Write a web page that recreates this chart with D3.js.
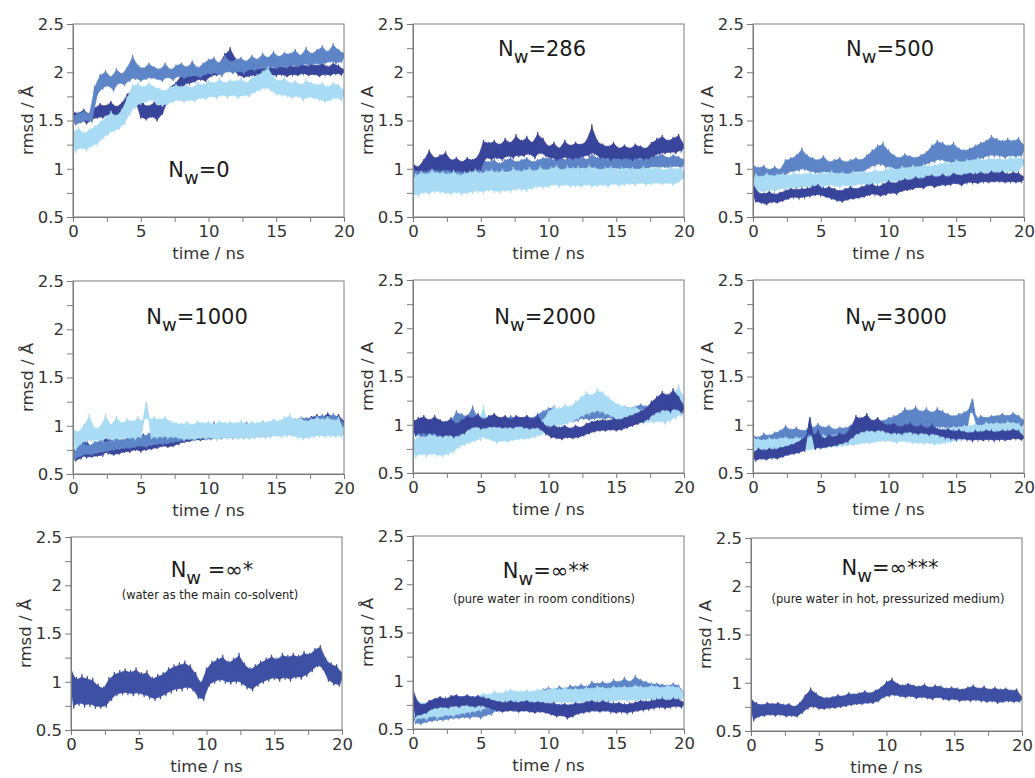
<!DOCTYPE html>
<html><head><meta charset="utf-8">
<script src="https://cdn.jsdelivr.net/npm/d3@7"></script>
<style>body{margin:0;background:#fff}svg{display:block}</style>
</head><body><svg id="c" width="1035" height="778"></svg>
<script>
// ---------- data (rmsd / Å sampled every 0.2 ns, 0..20 ns) ----------
const timeStep = 0.2;
const xTicks = [0, 2.5, 5, 7.5, 10, 12.5, 15, 17.5, 20];
const xTickLabels = [0, 5, 10, 15, 20];
const yTicks = [0.5, 0.75, 1, 1.25, 1.5, 1.75, 2, 2.25, 2.5];
const yTickLabels = [0.5, 1, 1.5, 2, 2.5];

const nw0_medium = [1.55,1.45,1.58,1.47,1.6,1.5,1.56,1.48,1.86,1.76, 1.98,1.82,2.02,1.85,1.96,1.8,2.04,1.88,1.99,1.86, 2.06,1.9,2.18,1.92,2.08,1.9,2.05,1.92,2.1,1.93, 2.06,1.92,2.04,1.9,2.1,1.94,2.03,1.91,2.08,1.95, 2.1,1.93,2.06,1.95,2.12,1.96,2.05,1.94,2.1,1.97, 2.14,1.97,2.16,1.98,2.1,1.95,2.18,2.0,2.12,1.98, 2.14,2.0,2.16,1.98,2.12,2.02,2.18,2.01,2.14,2.03, 2.2,2.02,2.16,2.04,2.22,2.03,2.17,2.05,2.21,2.04, 2.2,2.06,2.24,2.05,2.18,2.07,2.26,2.06,2.2,2.08, 2.24,2.07,2.28,2.08,2.22,2.1,2.3,2.08,2.24,2.1, 2.2];
const nw0_dark = [1.6,1.47,1.58,1.5,1.62,1.46,1.57,1.5,1.64,1.52, 1.68,1.52,1.66,1.55,1.7,1.53,1.65,1.54,1.69,1.56, 1.78,1.68,1.82,1.7,1.78,1.52,1.68,1.5,1.66,1.53, 1.7,1.49,1.66,1.56,1.78,1.7,1.86,1.74,1.9,1.78, 1.98,1.86,2.0,1.88,1.96,1.9,2.02,1.92,2.0,1.9, 2.08,1.95,2.12,1.96,2.1,1.98,2.2,2.0,2.26,2.02, 2.15,1.96,2.08,1.94,2.06,1.95,2.1,1.96,2.05,1.94, 2.06,1.95,2.08,1.97,2.04,1.96,2.09,1.97,2.05,1.95, 2.08,1.97,2.06,1.96,2.1,1.98,2.07,1.96,2.09,1.97, 2.08,1.95,2.1,1.97,2.06,1.96,2.1,1.98,2.07,1.97, 2.03];
const nw0_light = [1.4,1.16,1.44,1.2,1.38,1.18,1.42,1.22,1.45,1.24, 1.5,1.3,1.55,1.34,1.6,1.38,1.56,1.4,1.62,1.45, 1.75,1.55,1.88,1.62,1.9,1.66,1.86,1.68,1.9,1.7, 1.86,1.66,1.84,1.64,1.82,1.66,1.86,1.68,1.88,1.7, 1.86,1.68,1.88,1.7,1.85,1.69,1.9,1.72,1.88,1.71, 1.92,1.74,1.9,1.72,1.94,1.75,1.9,1.73,1.93,1.75, 1.92,1.72,1.95,1.75,1.9,1.74,1.96,1.78,1.98,1.8, 2.02,1.82,2.06,1.8,1.96,1.76,1.92,1.75,1.95,1.74, 1.9,1.72,1.92,1.74,1.88,1.7,1.93,1.73,1.9,1.72, 1.88,1.7,1.9,1.68,1.86,1.7,1.9,1.72,1.88,1.7, 1.82];

const nw286_dark = [1.05,0.98,1.02,0.97,1.1,0.96,1.2,0.98,1.12,0.97, 1.15,0.96,1.18,0.98,1.1,0.95,1.12,0.97,1.08,0.95, 1.12,0.96,1.1,0.97,1.14,0.98,1.3,1.1,1.28,1.08, 1.3,1.1,1.26,1.08,1.32,1.12,1.28,1.1,1.36,1.12, 1.3,1.12,1.34,1.14,1.28,1.1,1.38,1.15,1.32,1.12, 1.24,1.1,1.28,1.08,1.22,1.1,1.3,1.1,1.25,1.09, 1.28,1.1,1.26,1.12,1.3,1.12,1.46,1.14,1.3,1.1, 1.26,1.1,1.24,1.08,1.28,1.1,1.22,1.09,1.25,1.1, 1.22,1.08,1.26,1.1,1.24,1.09,1.22,1.1,1.28,1.12, 1.32,1.14,1.35,1.15,1.3,1.16,1.33,1.15,1.36,1.18, 1.25];
const nw286_medium = [1.0,0.88,1.02,0.9,1.05,0.88,1.0,0.9,1.04,0.89, 1.03,0.9,1.06,0.91,1.02,0.9,1.05,0.92,1.0,0.9, 1.04,0.92,1.08,0.93,1.02,0.92,1.1,0.94,1.08,0.95, 1.1,0.94,1.06,0.95,1.1,0.96,1.12,0.96,1.08,0.95, 1.1,0.96,1.12,0.97,1.08,0.95,1.1,0.98,1.12,0.97, 1.12,0.98,1.1,0.96,1.14,0.98,1.1,0.97,1.13,0.99, 1.12,0.98,1.15,1.0,1.1,0.98,1.16,1.0,1.12,0.98, 1.13,0.99,1.1,0.98,1.14,1.0,1.12,0.98,1.15,1.0, 1.12,0.98,1.14,0.99,1.1,0.98,1.13,1.0,1.15,1.01, 1.14,1.0,1.16,1.01,1.12,1.0,1.15,1.02,1.13,1.0, 1.1];
const nw286_light = [0.72,0.95,0.7,0.98,0.74,0.96,0.72,1.0,0.75,0.97, 0.74,0.98,0.73,0.96,0.72,0.99,0.74,0.95,0.72,0.97, 0.73,0.98,0.74,1.0,0.75,0.97,0.74,0.99,0.76,1.0, 0.75,0.98,0.74,1.0,0.76,0.97,0.75,1.02,0.77,0.99, 0.77,1.0,0.76,1.02,0.78,0.99,0.8,1.03,0.79,1.0, 0.8,1.02,0.82,1.04,0.8,1.0,0.82,1.03,0.8,1.02, 0.81,1.03,0.8,1.01,0.82,1.04,0.8,1.02,0.81,1.0, 0.82,1.02,0.8,1.03,0.83,1.0,0.81,1.02,0.82,1.01, 0.83,1.02,0.82,1.0,0.84,1.03,0.82,1.01,0.83,1.02, 0.84,1.02,0.83,1.0,0.84,1.03,0.82,1.01,0.85,1.02, 0.9];

const nw500_medium = [1.05,0.86,1.02,0.88,1.04,0.85,1.0,0.87,1.03,0.86, 1.0,0.88,1.1,0.95,1.12,0.96,1.15,0.97,1.22,0.98, 1.15,0.96,1.12,0.95,1.1,0.94,1.14,0.96,1.08,0.94, 1.1,0.93,1.12,0.94,1.08,0.93,1.1,0.95,1.12,0.96, 1.1,0.96,1.15,1.0,1.2,1.02,1.25,1.03,1.28,1.0, 1.2,1.0,1.15,0.98,1.12,0.99,1.16,0.98,1.14,1.0, 1.12,0.99,1.15,1.02,1.18,1.05,1.25,1.06,1.3,1.08, 1.28,1.06,1.25,1.05,1.28,1.04,1.22,1.05,1.2,1.04, 1.22,1.05,1.25,1.08,1.28,1.1,1.3,1.12,1.35,1.12, 1.32,1.12,1.3,1.1,1.32,1.12,1.3,1.11,1.33,1.12, 1.25];
const nw500_dark = [0.85,0.65,0.76,0.64,0.75,0.62,0.77,0.65,0.74,0.64, 0.76,0.66,0.78,0.68,0.8,0.7,0.79,0.69,0.8,0.7, 0.8,0.71,0.82,0.72,0.84,0.72,0.8,0.7,0.82,0.68, 0.8,0.66,0.78,0.65,0.8,0.67,0.82,0.68,0.8,0.69, 0.82,0.7,0.84,0.72,0.85,0.73,0.82,0.71,0.85,0.72, 0.88,0.74,0.86,0.73,0.88,0.76,0.9,0.77,0.89,0.78, 0.92,0.8,0.9,0.79,0.93,0.82,0.94,0.8,0.92,0.82, 0.95,0.82,0.92,0.83,0.96,0.84,0.94,0.82,0.95,0.85, 0.96,0.85,0.95,0.84,0.97,0.86,0.95,0.85,0.98,0.86, 0.96,0.86,0.98,0.85,0.95,0.86,0.97,0.85,0.96,0.86, 0.92];
const nw500_light = [0.75,0.95,0.76,0.93,0.74,0.96,0.77,0.94,0.75,0.95, 0.78,0.96,0.77,0.94,0.79,0.97,0.78,0.95,0.8,0.96, 0.8,0.97,0.79,0.95,0.81,0.97,0.8,0.96,0.82,0.98, 0.81,0.96,0.8,0.97,0.82,0.95,0.8,0.98,0.82,0.97, 0.83,0.98,0.82,0.97,0.84,1.0,0.83,0.98,0.85,1.0, 0.85,1.02,0.86,1.0,0.85,1.03,0.86,1.02,0.87,1.04, 0.86,1.03,0.88,1.05,0.87,1.04,0.88,1.05,0.9,1.06, 0.9,1.08,0.92,1.06,0.91,1.1,0.93,1.08,0.92,1.1, 0.93,1.1,0.94,1.12,0.93,1.1,0.95,1.12,0.94,1.11, 0.95,1.12,0.94,1.1,0.96,1.13,0.95,1.12,0.96,1.12, 1.05];

const nw1000_medium = [0.75,0.65,0.8,0.68,0.82,0.7,0.8,0.69,0.84,0.71, 0.85,0.72,0.84,0.73,0.86,0.74,0.88,0.75,0.86,0.76, 0.88,0.76,0.9,0.77,0.92,0.78,0.9,0.77,0.93,0.79, 0.92,0.8,0.94,0.8,0.92,0.81,0.95,0.82,0.94,0.83, 0.96,0.84,0.98,0.85,0.96,0.86,0.99,0.86,0.98,0.87, 1.0,0.87,0.98,0.88,1.02,0.88,1.0,0.89,1.02,0.9, 1.0,0.89,1.03,0.9,1.01,0.9,1.04,0.91,1.02,0.9, 1.04,0.91,1.03,0.92,1.06,0.93,1.04,0.92,1.05,0.93, 1.06,0.94,1.08,0.95,1.06,0.94,1.09,0.96,1.08,0.95, 1.1,0.96,1.12,0.97,1.1,0.96,1.13,0.97,1.1,0.96, 1.02];
const nw1000_dark = [0.72,0.63,0.78,0.65,0.95,0.66,0.8,0.67,0.78,0.68, 0.8,0.68,1.02,0.7,0.82,0.69,0.84,0.7,0.83,0.72, 0.86,0.72,0.88,0.74,0.9,0.72,0.92,0.74,0.88,0.75, 0.9,0.76,0.88,0.78,0.92,0.77,0.9,0.78,0.93,0.8, 0.98,0.82,0.95,0.83,0.97,0.84,1.0,0.84,0.96,0.85, 1.0,0.85,1.04,0.86,0.98,0.86,1.02,0.88,1.0,0.86, 1.02,0.87,1.0,0.86,1.04,0.88,1.01,0.87,1.03,0.88, 1.05,0.88,1.02,0.89,1.06,0.9,1.04,0.89,1.06,0.9, 1.08,0.92,1.06,0.93,1.1,0.92,1.08,0.94,1.1,0.95, 1.12,0.95,1.1,0.94,1.14,0.96,1.1,0.95,1.12,0.96, 1.05];
const nw1000_light = [0.98,0.74,0.95,0.8,1.02,0.82,1.12,0.83,0.98,0.84, 1.0,0.83,1.12,0.85,1.02,0.84,1.1,0.85,1.04,0.86, 1.08,0.86,1.06,0.85,1.1,0.87,1.05,1.25,1.08,0.86, 1.1,0.86,1.08,0.87,1.1,0.86,1.06,0.87,1.04,0.86, 1.03,0.84,1.05,0.85,1.02,0.84,1.06,0.86,1.04,0.85, 1.05,0.86,1.03,0.84,1.06,0.86,1.04,0.85,1.05,0.86, 1.04,0.85,1.06,0.86,1.03,0.85,1.05,0.86,1.04,0.87, 1.06,0.86,1.05,0.87,1.08,0.88,1.06,0.87,1.1,0.88, 1.12,0.88,1.08,0.86,1.1,0.85,1.06,0.86,1.08,0.87, 1.1,0.88,1.08,0.87,1.1,0.88,1.07,0.87,1.09,0.88, 0.95];

const nw2000_medium = [1.0,0.88,1.02,0.87,0.98,0.86,1.0,0.88,0.98,0.87, 1.0,0.86,1.02,0.88,1.05,0.9,1.15,0.92,1.12,0.93, 1.1,0.92,1.2,0.94,1.08,0.93,1.1,0.94,1.05,0.92, 1.1,0.94,1.08,0.93,1.06,0.94,1.1,0.95,1.08,0.96, 1.05,0.94,1.1,0.96,1.08,0.95,1.12,0.98,1.15,1.0, 1.18,1.0,1.2,1.02,1.16,1.0,1.2,1.03,1.18,1.02, 1.2,1.03,1.28,1.05,1.22,1.04,1.2,1.05,1.22,1.06, 1.2,1.05,1.22,1.06,1.2,1.04,1.18,1.05,1.2,1.06, 1.18,1.05,1.2,1.06,1.22,1.05,1.2,1.06,1.22,1.07, 1.2,1.06,1.22,1.08,1.2,1.07,1.24,1.08,1.22,1.1, 1.15];
const nw2000_dark = [1.05,0.88,1.08,0.9,1.1,0.89,1.06,0.9,1.1,0.88, 1.06,0.87,1.04,0.88,1.08,0.86,1.02,0.88,1.06,0.9, 1.1,0.95,1.08,0.97,1.12,0.95,1.06,0.96,1.1,0.97, 1.12,0.97,1.08,0.96,1.1,0.97,1.06,0.96,1.1,0.98, 1.08,0.96,1.1,0.95,1.06,0.96,1.1,0.95,1.02,0.9, 0.98,0.86,1.0,0.85,0.98,0.84,1.0,0.86,0.97,0.85, 1.0,0.86,0.98,0.88,1.02,0.9,1.04,0.92,1.05,0.93, 1.06,0.93,1.05,0.94,1.07,0.93,1.06,0.94,1.08,0.96, 1.1,0.98,1.12,1.0,1.15,1.02,1.18,1.05,1.25,1.1, 1.3,1.12,1.35,1.14,1.32,1.12,1.38,1.15,1.3,1.12, 1.2];
const nw2000_light = [0.85,0.65,0.9,0.68,0.88,0.66,0.92,0.68,0.9,0.67, 0.88,0.66,0.9,0.68,0.92,0.7,0.98,0.75,1.0,0.78, 1.0,0.8,1.02,0.82,1.05,0.83,1.2,0.84,1.02,0.83, 0.98,0.8,1.0,0.82,0.97,0.81,1.0,0.83,0.98,0.84, 1.0,0.84,0.98,0.85,1.02,0.86,1.04,0.88,1.06,0.9, 1.15,0.95,1.2,0.97,1.18,0.98,1.22,1.0,1.2,1.02, 1.25,1.05,1.3,1.08,1.35,1.1,1.32,1.12,1.38,1.12, 1.35,1.1,1.3,1.08,1.25,1.05,1.22,1.04,1.2,1.02, 1.18,1.0,1.2,1.02,1.16,1.0,1.18,1.02,1.2,1.01, 1.22,1.02,1.25,1.0,1.3,1.02,1.35,1.05,1.42,1.08, 1.3];

const nw3000_medium = [0.9,0.72,0.88,0.74,0.92,0.73,0.9,0.75,0.93,0.76, 0.95,0.77,1.0,0.78,0.96,0.8,0.98,0.8,0.95,0.81, 0.96,0.82,0.98,0.83,1.02,0.84,0.98,0.84,1.0,0.85, 0.96,0.84,0.98,0.86,0.97,0.87,1.0,0.88,1.02,0.9, 1.05,0.9,1.08,0.91,1.04,0.92,1.06,0.93,1.05,0.92, 1.08,0.93,1.1,0.94,1.12,0.95,1.18,0.96,1.16,0.95, 1.2,0.96,1.15,0.95,1.18,0.96,1.14,0.95,1.18,0.96, 1.15,0.96,1.12,0.95,1.1,0.96,1.12,0.97,1.14,0.96, 1.18,1.27,1.05,0.96,1.1,0.97,1.08,0.96,1.1,0.97, 1.1,0.97,1.12,0.98,1.1,0.97,1.13,0.98,1.1,0.97, 1.05];
const nw3000_dark = [0.72,0.62,0.76,0.64,0.74,0.63,0.76,0.65,0.75,0.64, 0.77,0.66,0.78,0.68,0.8,0.69,0.82,0.7,0.86,0.72, 0.9,1.08,0.88,0.74,0.95,0.75,0.86,0.76,0.9,0.77, 0.88,0.78,0.92,0.8,0.9,0.82,0.98,0.86,1.1,0.9, 1.08,0.92,1.12,0.93,1.05,0.92,1.08,0.94,1.02,0.92, 1.0,0.9,1.02,0.91,0.98,0.9,1.0,0.92,1.02,0.91, 0.98,0.9,1.0,0.91,0.97,0.89,1.0,0.9,0.96,0.88, 0.95,0.86,0.96,0.85,0.94,0.84,0.95,0.85,0.93,0.84, 0.92,0.83,0.94,0.84,0.93,0.83,0.95,0.84,0.94,0.83, 0.93,0.84,0.95,0.83,0.94,0.84,0.96,0.85,0.94,0.84, 0.88];
const nw3000_light = [0.88,0.68,0.86,0.7,0.85,0.69,0.87,0.7,0.86,0.7, 0.87,0.71,0.88,0.72,0.86,0.72,0.88,0.73,0.87,0.72, 0.88,0.73,0.9,0.74,0.88,0.74,0.9,0.75,0.89,0.76, 0.9,0.76,0.92,0.77,0.9,0.78,0.93,0.78,0.92,0.79, 0.93,0.8,0.94,0.8,0.95,0.81,0.94,0.82,0.96,0.82, 0.97,0.82,0.96,0.8,0.98,0.82,0.96,0.81,0.97,0.8, 0.96,0.8,0.98,0.79,0.97,0.8,0.96,0.78,0.98,0.79, 0.97,0.8,0.98,0.81,0.99,0.82,0.98,0.83,1.0,0.84, 1.0,0.85,1.02,0.86,1.0,0.86,1.03,0.87,1.02,0.86, 1.03,0.87,1.02,0.86,1.04,0.87,1.03,0.88,1.02,0.87, 0.95];

const nwInf1_single = [1.15,0.72,1.05,0.75,1.08,0.73,1.06,0.74,1.04,0.72, 0.98,0.72,0.95,0.73,1.05,0.8,1.1,0.85,1.12,0.86, 1.14,0.86,1.12,0.85,1.15,0.86,1.1,0.84,1.12,0.82, 1.05,0.8,1.08,0.82,1.1,0.85,1.15,0.88,1.18,0.9, 1.2,0.9,1.22,0.92,1.18,0.9,1.1,0.82,1.0,0.8, 1.15,0.95,1.22,0.98,1.25,1.0,1.28,0.98,1.22,0.97, 1.25,0.98,1.3,0.96,1.2,0.92,1.15,0.9,1.18,0.95, 1.22,0.98,1.25,1.0,1.28,1.02,1.25,1.0,1.3,1.02, 1.28,1.0,1.3,1.03,1.28,1.02,1.32,1.05,1.3,1.1, 1.35,1.15,1.38,1.12,1.25,1.0,1.2,0.96,1.18,0.95, 1.1];

const nwInf2_medium = [0.72,0.55,0.7,0.54,0.72,0.56,0.74,0.57,0.72,0.58, 0.74,0.58,0.75,0.59,0.76,0.6,0.75,0.6,0.77,0.61, 0.76,0.6,0.78,0.62,0.76,0.6,0.79,0.63,0.8,0.64, 0.84,0.68,0.86,0.7,0.85,0.7,0.88,0.72,0.87,0.72, 0.88,0.73,0.9,0.74,0.88,0.73,0.9,0.75,0.92,0.76, 0.94,0.76,0.92,0.77,0.95,0.78,0.93,0.77,0.96,0.78, 0.95,0.78,0.97,0.8,0.95,0.79,1.0,0.82,0.98,0.82, 1.0,0.82,0.98,0.81,1.02,0.83,1.0,0.82,1.04,0.84, 1.0,0.83,1.06,0.84,1.02,0.83,1.0,0.82,0.98,0.82, 0.98,0.81,0.97,0.82,0.96,0.8,0.98,0.82,0.96,0.81, 0.88];
const nwInf2_dark = [0.92,0.62,0.78,0.64,0.76,0.66,0.8,0.7,0.82,0.71, 0.84,0.72,0.82,0.71,0.85,0.73,0.86,0.72,0.84,0.74, 0.86,0.73,0.84,0.72,0.85,0.74,0.83,0.72,0.82,0.7, 0.8,0.68,0.79,0.67,0.78,0.68,0.8,0.68,0.78,0.67, 0.79,0.68,0.8,0.67,0.78,0.66,0.79,0.67,0.78,0.66, 0.77,0.64,0.78,0.62,0.76,0.63,0.77,0.6,0.76,0.62, 0.78,0.65,0.77,0.66,0.79,0.67,0.8,0.68,0.78,0.67, 0.8,0.68,0.78,0.67,0.77,0.66,0.78,0.67,0.76,0.66, 0.77,0.67,0.78,0.68,0.8,0.69,0.79,0.7,0.8,0.71, 0.81,0.72,0.82,0.71,0.8,0.72,0.82,0.73,0.81,0.72, 0.78];
const nwInf2_light = [0.82,0.58,0.8,0.6,0.78,0.59,0.8,0.62,0.82,0.6, 0.8,0.62,0.82,0.63,0.81,0.62,0.84,0.64,0.83,0.65, 0.85,0.66,0.84,0.67,0.86,0.68,0.88,0.7,0.87,0.7, 0.9,0.72,0.88,0.72,0.9,0.73,0.92,0.74,0.9,0.73, 0.9,0.74,0.91,0.75,0.9,0.74,0.92,0.75,0.91,0.76, 0.92,0.76,0.93,0.77,0.92,0.76,0.94,0.77,0.92,0.76, 0.93,0.77,0.92,0.76,0.94,0.78,0.93,0.77,0.95,0.78, 0.94,0.78,0.93,0.77,0.95,0.78,0.94,0.79,0.95,0.78, 0.94,0.79,0.96,0.78,0.95,0.79,0.94,0.8,0.96,0.79, 0.95,0.8,0.94,0.79,0.96,0.8,0.95,0.8,0.94,0.81, 0.88];

const nwInf3_single = [0.85,0.6,0.8,0.64,0.78,0.65,0.8,0.66,0.79,0.65, 0.8,0.66,0.78,0.64,0.79,0.65,0.76,0.64,0.8,0.68, 0.88,0.72,0.95,0.74,0.9,0.72,0.86,0.72,0.85,0.73, 0.86,0.73,0.88,0.74,0.87,0.75,0.9,0.76,0.89,0.77, 0.9,0.77,0.92,0.78,0.9,0.78,0.93,0.8,0.96,0.84, 1.02,0.85,1.05,0.86,1.0,0.85,0.98,0.84,1.0,0.85, 0.98,0.83,0.97,0.84,0.99,0.83,0.96,0.82,0.98,0.84, 0.97,0.82,0.95,0.81,0.96,0.82,0.95,0.8,0.94,0.81, 0.96,0.8,0.98,0.81,0.95,0.8,0.97,0.79,0.94,0.8, 0.96,0.78,0.94,0.79,0.95,0.8,0.93,0.79,0.94,0.8, 0.85];

const seriesColors = {dark: "#38459b", medium: "#5d85c7", light: "#a9dcf4", single: "#3e50a3"};

// ---------- panel configuration ----------
const panels = [
  {title:["N","w","=0"], sub:null, ylab:"rmsd / Å", tx:199, ty:177, series:[["dark",nw0_dark],["medium",nw0_medium],["light",nw0_light]]},
  {title:["N","w","=286"], sub:null, ylab:"rmsd / A", tx:542, ty:56, series:[["medium",nw286_medium],["dark",nw286_dark],["light",nw286_light]]},
  {title:["N","w","=500"], sub:null, ylab:"rmsd / A", tx:890, ty:56, series:[["medium",nw500_medium],["light",nw500_light],["dark",nw500_dark]]},
  {title:["N","w","=1000"], sub:null, ylab:"rmsd / Å", tx:197, ty:324, series:[["dark",nw1000_dark],["medium",nw1000_medium],["light",nw1000_light]]},
  {title:["N","w","=2000"], sub:null, ylab:"rmsd / A", tx:545, ty:324, series:[["medium",nw2000_medium],["light",nw2000_light],["dark",nw2000_dark]]},
  {title:["N","w","=3000"], sub:null, ylab:"rmsd / A", tx:896, ty:324, series:[["medium",nw3000_medium],["light",nw3000_light],["dark",nw3000_dark]]},
  {title:["N","w"," =∞*"], sub:"(water as the main co-solvent)", ylab:"rmsd / Å", tx:212, ty:577, sy:599, series:[["single",nwInf1_single]]},
  {title:["N","w","=∞**"], sub:"(pure water in room conditions)", ylab:"rmsd / Å", tx:546, ty:578, sy:603, series:[["medium",nwInf2_medium],["light",nwInf2_light],["dark",nwInf2_dark]]},
  {title:["N","w","=∞***"], sub:"(pure water in hot, pressurized medium)", ylab:"rmsd / A", tx:890, ty:575, sy:603, series:[["single",nwInf3_single]]}
];
const frames = [
  [73,24],[413,24],[753,24],
  [73,281],[413,280],[753,280],
  [71,537],[413,536],[751,538]
];
const W = 271, H = 193;

const svg = d3.select("#c");
const axisColor = "#7a7a7a", textColor = "#333";
const tickFont = "'DejaVu Sans', sans-serif";
const titleFont = "'DejaVu Sans', sans-serif";
const shrink = 0.1; // inner part of the noise envelope drawn solid

panels.forEach((p, i) => {
  const [left, top] = frames[i];
  const x = d3.scaleLinear().domain([0, 20]).range([0, W]);
  const y = d3.scaleLinear().domain([0.5, 2.5]).range([H, 0]);
  const g = svg.append("g").attr("transform", `translate(${left},${top})`);

  const clipId = "clip" + i;
  g.append("clipPath").attr("id", clipId).append("rect").attr("width", W).attr("height", H);

  const line = d3.line().x((d, k) => x(k * timeStep)).y(d => y(d));
  const nb = (a, k) => (a[Math.max(0, k - 1)] + a[Math.min(a.length - 1, k + 1)]) / 2;
  const band = d3.area()
    .x((d, k) => x(k * timeStep))
    .y0((d, k, a) => { const m = nb(a, k), lo = Math.min(m, d), hi = Math.max(m, d); return y(lo + shrink * (hi - lo)); })
    .y1((d, k, a) => { const m = nb(a, k), lo = Math.min(m, d), hi = Math.max(m, d); return y(hi - shrink * (hi - lo)); });
  const lg = g.append("g").attr("clip-path", `url(#${clipId})`);
  p.series.forEach(([kind, vals]) => {
    lg.append("path").datum(vals).attr("d", band)
      .attr("fill", seriesColors[kind]).attr("stroke", seriesColors[kind]).attr("stroke-width", 0.8);
    lg.append("path").datum(vals).attr("d", line)
      .attr("fill", "none").attr("stroke", seriesColors[kind])
      .attr("stroke-width", 1.1);
  });

  // frame
  g.append("rect").attr("width", W).attr("height", H)
    .attr("fill", "none").attr("stroke", axisColor).attr("stroke-width", 1);

  // axes
  const xAxis = d3.axisBottom(x).tickValues(xTicks).tickSize(5).tickSizeOuter(0)
    .tickFormat(d => xTickLabels.includes(d) ? d3.format("d")(d) : "");
  const xa = g.append("g").attr("transform", `translate(0,${H})`).call(xAxis);
  const yAxis = d3.axisLeft(y).tickValues(yTicks).tickSize(6).tickSizeOuter(0)
    .tickFormat(d => yTickLabels.includes(d) ? String(d) : "");
  const ya = g.append("g").call(yAxis);
  [xa, ya].forEach(a => {
    a.select(".domain").attr("stroke", axisColor);
    a.selectAll(".tick line").attr("stroke", axisColor);
    a.selectAll(".tick text").attr("fill", textColor)
      .attr("font-family", tickFont).attr("font-size", 16.5);
  });

  // axis titles
  g.append("text").attr("x", W / 2).attr("y", H + 42)
    .attr("text-anchor", "middle").attr("fill", textColor)
    .attr("font-family", tickFont).attr("font-size", 16.5).text("time / ns");
  g.append("text").attr("transform", `translate(${-40},${H / 2}) rotate(-90)`)
    .attr("text-anchor", "middle").attr("fill", textColor)
    .attr("font-family", tickFont).attr("font-size", 16.5).text(p.ylab);

  // title
  const t = svg.append("text").attr("x", p.tx).attr("y", p.ty)
    .attr("text-anchor", "middle").attr("fill", "#1a1a1a")
    .attr("font-family", titleFont).attr("font-size", 21);
  t.append("tspan").text(p.title[0]);
  t.append("tspan").attr("dy", 7).attr("font-size", 18).text(p.title[1]);
  t.append("tspan").attr("dy", -7).text(p.title[2]);
  if (p.sub) {
    svg.append("text").attr("x", p.tx - 2).attr("y", p.sy)
      .attr("text-anchor", "middle").attr("fill", "#222")
      .attr("font-family", titleFont).attr("font-size", 11.5).text(p.sub);
  }
});
</script>
</body></html>
